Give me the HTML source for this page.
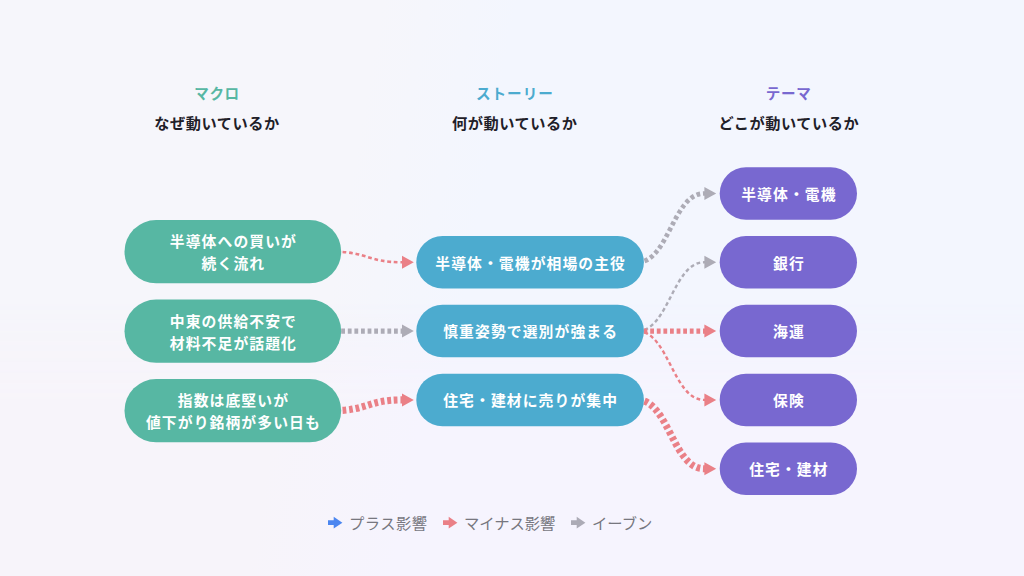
<!DOCTYPE html>
<html lang="ja">
<head>
<meta charset="utf-8">
<title>マクロ・ストーリー・テーマ</title>
<style>
html,body{margin:0;padding:0;}
body{width:1024px;height:576px;overflow:hidden;position:relative;
  background:linear-gradient(100deg,#f6f6fb 0%,#f6f6fb 34%,#f3f6fe 46%,#f3f6fe 100%);
  font-family:"Liberation Sans","Noto Sans CJK JP",sans-serif;}
.bg2{position:absolute;left:0;top:0;width:1024px;height:576px;
  background:linear-gradient(100deg,#f7f4fa 0%,#f7f4fa 31%,#f6f4fe 44%,#f6f4fe 100%);
  -webkit-mask-image:linear-gradient(180deg,transparent 0%,transparent 52%,#000 70%,#000 100%);
  mask-image:linear-gradient(180deg,transparent 0%,transparent 52%,#000 70%,#000 100%);}
.h1,.h2,.node,.lg{position:absolute;white-space:nowrap;text-align:center;}
.h1{font-size:14.6px;letter-spacing:0.5px;text-indent:0.5px;font-weight:700;line-height:20px;top:84px;transform:translateX(-50%);}
.h2{font-size:15.2px;letter-spacing:0.55px;text-indent:0.55px;font-weight:700;line-height:22px;top:113px;color:#1f2028;transform:translateX(-50%);}
.node{color:#fff;font-weight:700;font-size:14.8px;letter-spacing:1.1px;text-indent:1.1px;line-height:20px;height:20px;}
.m{left:124.5px;width:216.7px;}
.s{left:416.3px;width:227.6px;}
.t{left:719.7px;width:137.3px;}
.lg{transform:translateX(-50%);font-size:15.3px;color:#77777f;line-height:20px;top:514px;font-weight:400;}
svg{position:absolute;left:0;top:0;}
</style>
</head>
<body>
<div class="bg2"></div>
<div class="h1" style="left:216.7px;color:#57b7a3">マクロ</div>
<div class="h2" style="left:216.7px">なぜ動いているか</div>
<div class="h1" style="left:514.4px;color:#4cabcf;letter-spacing:1px;text-indent:1px">ストーリー</div>
<div class="h2" style="left:514.4px">何が動いているか</div>
<div class="h1" style="left:788.3px;color:#7868d0;letter-spacing:0.7px;text-indent:0.7px">テーマ</div>
<div class="h2" style="left:788.5px">どこが動いているか</div>

<svg width="1024" height="576" viewBox="0 0 1024 576">
  <g fill="none" stroke-dasharray="3.8 2.8">
    <path d="M404.4 262.3H402C367.5 262.3 367.5 251.65 333 251.65" stroke="#ea8087" stroke-width="2.6"/>
    <path d="M404.4 331.1H333" stroke="#adacb6" stroke-width="5.3"/>
    <path d="M404.4 399.9H402C367.5 399.9 367.5 410.65 333 410.65" stroke="#ea8087" stroke-width="7.1"/>
    <path d="M706.8 193.5H704C673 193.5 668.5 262.3 637.5 262.3" stroke="#adacb6" stroke-width="4.7"/>
    <path d="M706.8 262.3H704C673 262.3 668.5 331.1 637.5 331.1" stroke="#adacb6" stroke-width="2.4"/>
    <path d="M706.8 331.1H637.5" stroke="#ea8087" stroke-width="5.3"/>
    <path d="M706.8 399.9H704C673 399.9 668.5 331.1 637.5 331.1" stroke="#ea8087" stroke-width="2.4"/>
    <path d="M706.8 468.7H704C673 468.7 668.5 399.9 637.5 399.9" stroke="#ea8087" stroke-width="7.1"/>
  </g>
  <g>
    <path d="M413.8 262.3l-11.8 -6.5v13z" fill="#ea8087"/>
    <path d="M413.8 331.1l-11.8 -6.5v13z" fill="#adacb6"/>
    <path d="M413.8 399.9l-11.8 -6.5v13z" fill="#ea8087"/>
    <path d="M716.2 193.5l-11.8 -6.5v13z" fill="#adacb6"/>
    <path d="M716.2 262.3l-11.8 -6.5v13z" fill="#adacb6"/>
    <path d="M716.2 331.1l-11.8 -6.5v13z" fill="#ea8087"/>
    <path d="M716.2 399.9l-11.8 -6.5v13z" fill="#ea8087"/>
    <path d="M716.2 468.7l-11.8 -6.5v13z" fill="#ea8087"/>
  </g>
  <g>
    <rect x="124.5" y="220" width="216.7" height="63.3" rx="31.65" fill="#57b7a3"/>
    <rect x="124.5" y="299.5" width="216.7" height="63.3" rx="31.65" fill="#57b7a3"/>
    <rect x="124.5" y="379" width="216.7" height="63.3" rx="31.65" fill="#57b7a3"/>
    <rect x="416.3" y="236.05" width="227.6" height="52.5" rx="26.25" fill="#4cabcf"/>
    <rect x="416.3" y="304.85" width="227.6" height="52.5" rx="26.25" fill="#4cabcf"/>
    <rect x="416.3" y="373.65" width="227.6" height="52.5" rx="26.25" fill="#4cabcf"/>
    <rect x="719.7" y="167.25" width="137.3" height="52.5" rx="26.25" fill="#7868d0"/>
    <rect x="719.7" y="236.05" width="137.3" height="52.5" rx="26.25" fill="#7868d0"/>
    <rect x="719.7" y="304.85" width="137.3" height="52.5" rx="26.25" fill="#7868d0"/>
    <rect x="719.7" y="373.65" width="137.3" height="52.5" rx="26.25" fill="#7868d0"/>
    <rect x="719.7" y="442.45" width="137.3" height="52.5" rx="26.25" fill="#7868d0"/>
  </g>
  <g>
    <path d="M328 520.3h5.7v-3.5l8.7 5.9l-8.7 5.9v-3.5h-5.7z" fill="#4b86f0"/>
    <path d="M443 520.3h5.7v-3.5l8.7 5.9l-8.7 5.9v-3.5h-5.7z" fill="#ea8087"/>
    <path d="M571 520.3h5.7v-3.5l8.7 5.9l-8.7 5.9v-3.5h-5.7z" fill="#acabb6"/>
  </g>
</svg>

<div class="node m" style="top:232px">半導体への買いが</div>
<div class="node m" style="top:254px">続く流れ</div>
<div class="node m" style="top:312px">中東の供給不安で</div>
<div class="node m" style="top:334px">材料不足が話題化</div>
<div class="node m" style="top:391px">指数は底堅いが</div>
<div class="node m" style="top:413px">値下がり銘柄が多い日も</div>
<div class="node s" style="top:254px">半導体・電機が相場の主役</div>
<div class="node s" style="top:322px">慎重姿勢で選別が強まる</div>
<div class="node s" style="top:391px">住宅・建材に売りが集中</div>
<div class="node t" style="top:185px">半導体・電機</div>
<div class="node t" style="top:254px">銀行</div>
<div class="node t" style="top:322px">海運</div>
<div class="node t" style="top:391px">保険</div>
<div class="node t" style="top:460px">住宅・建材</div>

<div class="lg" style="left:388.2px;letter-spacing:0.45px">プラス影響</div>
<div class="lg" style="left:509.7px">マイナス影響</div>
<div class="lg" style="left:622.2px">イーブン</div>
</body>
</html>
